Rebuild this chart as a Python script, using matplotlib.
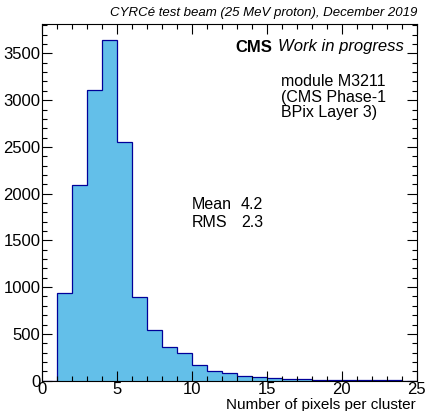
#!/usr/bin/env python3
# pixels-per-cluster histogram, ROOT/CMS style

import numpy as np
import matplotlib
matplotlib.use("Agg")
import matplotlib.pyplot as plt
from matplotlib.ticker import MultipleLocator

plt.rcParams['font.family'] = ['Liberation Sans', 'DejaVu Sans']

# bin edges and counts
bin_edges = np.arange(0, 26, 1)
counts = [0, 934, 2090, 3105, 3640, 2555, 892, 540, 357, 295,
          168, 104, 79, 50, 39, 30, 15, 12, 10, 8,
          5, 4, 3, 2, 1]

title_text = "CYRCé test beam (25 MeV proton), December 2019"
module_text = "module M3211\n(CMS Phase-1\nBPix Layer 3)"
mean_val = 4.2
rms_val = 2.3

fill_color = '#63bfe9'
line_color = '#000099'

W, H = 426, 411
fig = plt.figure(figsize=(W / 100, H / 100), dpi=100)
ax = fig.add_axes([41.7 / W, 1 - 380.6 / H, (416.7 - 41.7) / W, (380.6 - 24) / H])

ax.stairs(counts, bin_edges, fill=True, color=fill_color, lw=0)
ax.stairs(counts, bin_edges, color=line_color, lw=0.9)

ax.set_xlim(0, 25)
ax.set_ylim(0, 3815)

ax.xaxis.set_major_locator(MultipleLocator(5))
ax.xaxis.set_minor_locator(MultipleLocator(1))
ax.yaxis.set_major_locator(MultipleLocator(500))
ax.yaxis.set_minor_locator(MultipleLocator(100))
ax.tick_params(which='both', direction='in', top=True, right=True,
               width=0.8, color='black', labelsize=12)
ax.tick_params(which='major', length=7.5)
ax.tick_params(which='minor', length=3.6)
ax.tick_params(axis='x', pad=1)
ax.tick_params(axis='y', pad=1)
for s in ax.spines.values():
    s.set_linewidth(0.8)

fig.text(416 / W, 1 - 404.5 / H, "Number of pixels per cluster",
         ha='right', va='center', fontsize=11)

fig.text(417 / W, 1 - 13 / H, title_text, ha='right', va='center',
         fontsize=9.5, style='italic')

fig.text(235 / W, 1 - 47 / H, "CMS", ha='left', va='center',
         fontsize=12, fontweight='bold')
fig.text(404 / W, 1 - 47 / H, "Work in progress", ha='right', va='center',
         fontsize=12, style='italic')

fig.text(281 / W, 1 - 74 / H, module_text, ha='left', va='top',
         fontsize=11.5, linespacing=1.05)

fig.text(192 / W, 1 - 204 / H, "Mean", ha='left', va='center', fontsize=11.5)
fig.text(241 / W, 1 - 204 / H, f"{mean_val:.1f}", ha='left', va='center', fontsize=11.5)
fig.text(192 / W, 1 - 222.5 / H, "RMS", ha='left', va='center', fontsize=11.5)
fig.text(241 / W, 1 - 222.5 / H, f"{rms_val:.1f}", ha='left', va='center', fontsize=11.5)

fig.savefig("out.png", dpi=100, facecolor='white')
